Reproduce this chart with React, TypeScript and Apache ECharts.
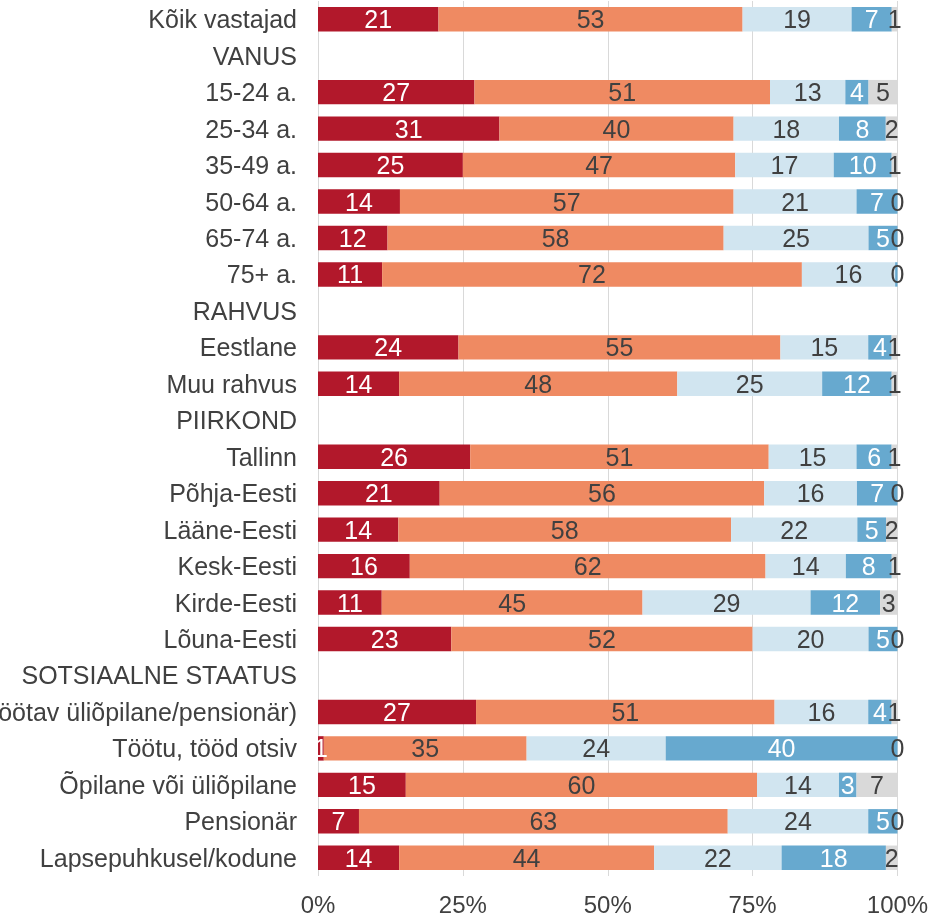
import React, { useEffect, useRef } from "react";
import * as echarts from "echarts";

const categories = [
  "Kõik vastajad",
  "VANUS",
  "15-24 a.",
  "25-34 a.",
  "35-49 a.",
  "50-64 a.",
  "65-74 a.",
  "75+ a.",
  "RAHVUS",
  "Eestlane",
  "Muu rahvus",
  "PIIRKOND",
  "Tallinn",
  "Põhja-Eesti",
  "Lääne-Eesti",
  "Kesk-Eesti",
  "Kirde-Eesti",
  "Lõuna-Eesti",
  "SOTSIAALNE STAATUS",
  "Töötav (sh töötav üliõpilane/pensionär)",
  "Töötu, tööd otsiv",
  "Õpilane või üliõpilane",
  "Pensionär",
  "Lapsepuhkusel/kodune",
];

const s1 = [21, null, 27, 31, 25, 14, 12, 11, null, 24, 14, null, 26, 21, 14, 16, 11, 23, null, 27, 1, 15, 7, 14];
const s2 = [53, null, 51, 40, 47, 57, 58, 72, null, 55, 48, null, 51, 56, 58, 62, 45, 52, null, 51, 35, 60, 63, 44];
const s3 = [19, null, 13, 18, 17, 21, 25, 16, null, 15, 25, null, 15, 16, 22, 14, 29, 20, null, 16, 24, 14, 24, 22];
const s4 = [7, null, 4, 8, 10, 7, 5, 0.4, null, 4, 12, null, 6, 7, 5, 8, 12, 5, null, 4, 40, 3, 5, 18];
const s5 = [1, null, 5, 2, 1, 0, 0, 0, null, 1, 1, null, 1, 0, 2, 1, 3, 0, null, 1, 0, 7, 0, 2];

const xTicks = [0, 25, 50, 75, 100];

const seriesValues = [s1, s2, s3, s4, s5];
const colors = ["#B2182B", "#EF8A62", "#D1E5F0", "#67A9CF", "#D9D9D9"];
const labelColors = ["#FFFFFF", "#404040", "#404040", "#FFFFFF", "#404040"];

const FONT = "'Liberation Sans', Arial, sans-serif";

export default function App() {
  const ref = useRef<HTMLDivElement>(null);

  useEffect(() => {
    if (!ref.current) return;
    const chart = echarts.init(ref.current, undefined, { renderer: "svg" });

    const sums = categories.map((_, i) =>
      seriesValues.reduce((acc, s) => acc + (s[i] == null ? 0 : (s[i] as number)), 0)
    );

    const series = seriesValues.map((vals, si) => ({
      type: "bar",
      stack: "total",
      barWidth: "67%",
      itemStyle: { color: colors[si] },
      label: {
        show: true,
        position: "inside",
        color: labelColors[si],
        fontSize: 25,
        fontFamily: FONT,
        formatter: (p: any) => {
          const raw = p.data && p.data.raw;
          if (raw == null) return "";
          if (si < 4 && raw < 0.5) return "";
          return String(Math.round(raw));
        },
      },
      data: vals.map((v, i) =>
        v == null ? { value: "-", raw: null } : { value: (v / sums[i]) * 100, raw: v }
      ),
    }));

    chart.setOption({
      animation: false,
      grid: {
        left: 318,
        right: 32.5,
        top: 1,
        bottom: 42,
        containLabel: false,
        outerBoundsMode: "none",
      },
      xAxis: {
        type: "value",
        min: xTicks[0],
        max: xTicks[xTicks.length - 1],
        interval: 25,
        axisLine: { show: false },
        axisTick: { show: false },
        splitLine: { show: true, lineStyle: { color: "#D9D9D9", width: 1 } },
        axisLabel: {
          formatter: "{value}%",
          color: "#404040",
          fontSize: 24,
          fontFamily: FONT,
          margin: 16,
        },
      },
      yAxis: {
        type: "category",
        data: categories,
        inverse: true,
        axisLine: { show: false },
        axisTick: { show: false },
        axisLabel: {
          color: "#404040",
          fontSize: 25,
          fontFamily: FONT,
          margin: 21,
        },
      },
      series,
    });

    return () => chart.dispose();
  }, []);

  return (
    <div
      ref={ref}
      style={{ position: "fixed", left: 0, top: 0, width: 930, height: 918 }}
    />
  );
}
